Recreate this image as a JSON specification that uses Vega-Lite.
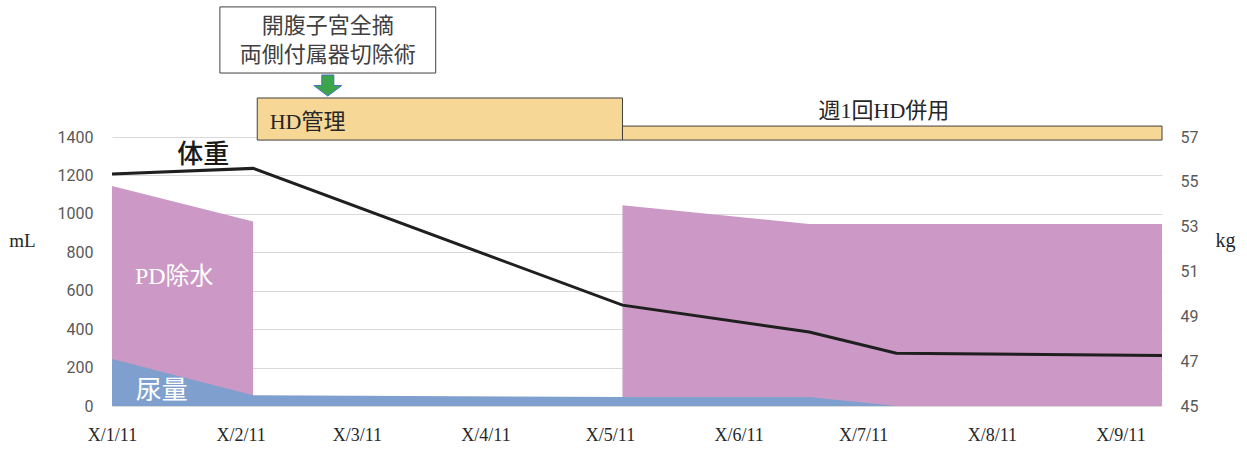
{
  "$schema": "https://vega.github.io/schema/vega-lite/v6.json",
  "width": 1050,
  "height": 269,
  "autosize": {"type": "none"},
  "padding": {"left": 112, "top": 137, "right": 85, "bottom": 44},
  "background": "white",
  "config": {"view": {"stroke": null}, "font": "Noto Sans CJK JP", "axis": {"disable": true}},
  "datasets": {
    "fluid": [
      {"date": "2011/01/11", "series": "尿量", "seg": "u", "ml": 245},
      {"date": "2011/02/14", "series": "尿量", "seg": "u", "ml": 56},
      {"date": "2011/05/14", "series": "尿量", "seg": "u", "ml": 47},
      {"date": "2011/06/28", "series": "尿量", "seg": "u", "ml": 47},
      {"date": "2011/07/19", "series": "尿量", "seg": "u", "ml": 0},
      {"date": "2011/09/21", "series": "尿量", "seg": "u", "ml": 0},
      {"date": "2011/01/11", "series": "PD除水", "seg": "p1", "ml": 1145},
      {"date": "2011/02/14", "series": "PD除水", "seg": "p1", "ml": 960},
      {"date": "2011/05/14", "series": "PD除水", "seg": "p2", "ml": 1045},
      {"date": "2011/06/28", "series": "PD除水", "seg": "p2", "ml": 947},
      {"date": "2011/09/21", "series": "PD除水", "seg": "p2", "ml": 947}
    ],
    "weight": [
      {"date": "2011/01/11", "kg": 55.35},
      {"date": "2011/02/14", "kg": 55.6},
      {"date": "2011/05/14", "kg": 49.5},
      {"date": "2011/06/28", "kg": 48.3},
      {"date": "2011/07/19", "kg": 47.35},
      {"date": "2011/09/21", "kg": 47.25}
    ],
    "periods": [
      {"start": "2011/02/15", "end": "2011/05/14", "label": "HD管理"},
      {"start": "2011/05/14", "end": "2011/09/21", "label": "週1回HD併用"}
    ],
    "one": [{}]
  },
  "layer": [
    {
      "data": {"name": "fluid"},
      "transform": [{"filter": "datum.series === 'PD除水'"}],
      "mark": {"type": "area", "color": "#CC98C5", "opacity": 1},
      "encoding": {
        "x": {"field": "date", "type": "temporal"},
        "y": {
          "field": "ml", "type": "quantitative", "stack": null,
          "scale": {"domain": [0, 1400], "nice": false},
          "axis": {
            "disable": false, "orient": "left",
            "values": [0, 200, 400, 600, 800, 1000, 1200, 1400], "format": "d",
            "title": "mL", "titleAngle": 0, "titleX": -90, "titleY": 103,
            "titleAlign": "center", "titleBaseline": "middle",
            "titleFont": "Liberation Serif", "titleFontSize": 19, "titleFontWeight": "normal", "titleColor": "#262626",
            "domain": false, "ticks": false, "grid": true, "gridColor": "#D9D9D9", "gridWidth": 1,
            "labelFont": "Roboto", "labelFontSize": 16, "labelColor": "#595959", "labelPadding": 19
          }
        },
        "detail": {"field": "seg"}
      }
    },
    {
      "data": {"name": "fluid"},
      "transform": [{"filter": "datum.series === '尿量'"}],
      "mark": {"type": "area", "color": "#7FA0CF", "opacity": 1},
      "encoding": {
        "x": {"field": "date", "type": "temporal"},
        "y": {"field": "ml", "type": "quantitative", "stack": null, "scale": {"domain": [0, 1400], "nice": false}}
      }
    },
    {
      "data": {"name": "periods"},
      "transform": [{"filter": "datum.label === 'HD管理'"}],
      "mark": {"type": "rect", "fill": "#F6D796", "stroke": "#404040", "strokeWidth": 1},
      "encoding": {
        "x": {"field": "start", "type": "temporal"},
        "x2": {"field": "end"},
        "y": {"datum": 1603, "type": "quantitative", "scale": {"domain": [0, 1400], "nice": false}},
        "y2": {"datum": 1384}
      }
    },
    {
      "data": {"name": "periods"},
      "transform": [{"filter": "datum.label === '週1回HD併用'"}],
      "mark": {"type": "rect", "fill": "#F6D796", "stroke": "#404040", "strokeWidth": 1},
      "encoding": {
        "x": {"field": "start", "type": "temporal"},
        "x2": {"field": "end"},
        "y": {"datum": 1457, "type": "quantitative", "scale": {"domain": [0, 1400], "nice": false}},
        "y2": {"datum": 1384}
      }
    },
    {
      "data": {"name": "one"},
      "mark": {"type": "text", "text": "HD管理", "align": "left", "baseline": "middle", "font": "Liberation Serif, Noto Sans CJK JP", "fontSize": 22, "color": "#262626"},
      "encoding": {
        "x": {"datum": {"year": 2011, "month": 2, "date": 18}, "type": "temporal"},
        "y": {"datum": 1478, "type": "quantitative", "scale": {"domain": [0, 1400], "nice": false}}
      }
    },
    {
      "data": {"name": "one"},
      "mark": {"type": "text", "text": "週1回HD併用", "align": "center", "baseline": "middle", "font": "Liberation Serif, Noto Sans CJK JP", "fontSize": 22, "color": "#262626"},
      "encoding": {
        "x": {"datum": {"year": 2011, "month": 7, "date": 16}, "type": "temporal"},
        "y": {"datum": 1535, "type": "quantitative", "scale": {"domain": [0, 1400], "nice": false}}
      }
    },
    {
      "data": {"name": "one"},
      "mark": {"type": "rect", "fill": "white", "stroke": "#404040", "strokeWidth": 1},
      "encoding": {
        "x": {"datum": {"year": 2011, "month": 2, "date": 6}, "type": "temporal"},
        "x2": {"datum": {"year": 2011, "month": 3, "date": 30}},
        "y": {"datum": 2077, "type": "quantitative", "scale": {"domain": [0, 1400], "nice": false}},
        "y2": {"datum": 1733}
      }
    },
    {
      "data": {"name": "one"},
      "mark": {"type": "text", "text": "開腹子宮全摘", "align": "center", "baseline": "middle", "font": "Noto Sans CJK JP", "fontSize": 22, "color": "#404040"},
      "encoding": {
        "x": {"datum": {"year": 2011, "month": 3, "date": 4}, "type": "temporal"},
        "y": {"datum": 1978, "type": "quantitative", "scale": {"domain": [0, 1400], "nice": false}}
      }
    },
    {
      "data": {"name": "one"},
      "mark": {"type": "text", "text": "両側付属器切除術", "align": "center", "baseline": "middle", "font": "Noto Sans CJK JP", "fontSize": 22, "color": "#404040"},
      "encoding": {
        "x": {"datum": {"year": 2011, "month": 3, "date": 4}, "type": "temporal"},
        "y": {"datum": 1827, "type": "quantitative", "scale": {"domain": [0, 1400], "nice": false}}
      }
    },
    {
      "data": {"name": "one"},
      "mark": {"type": "point", "shape": "M-0.43,-0.75L0.43,-0.75L0.43,0L1,0L0,0.75L-1,0L-0.43,0Z", "size": 784, "filled": true, "fill": "#3CA54A", "stroke": "#4472C4", "strokeWidth": 1, "opacity": 1},
      "encoding": {
        "x": {"datum": {"year": 2011, "month": 3, "date": 4}, "type": "temporal"},
        "y": {"datum": 1668, "type": "quantitative", "scale": {"domain": [0, 1400], "nice": false}}
      }
    },
    {
      "data": {"name": "one"},
      "mark": {"type": "text", "text": "体重", "align": "center", "baseline": "middle", "font": "Noto Sans CJK JP", "fontSize": 26, "fontWeight": 500, "color": "#1A1A1A"},
      "encoding": {
        "x": {"datum": {"year": 2011, "month": 2, "date": 2}, "type": "temporal"},
        "y": {"datum": 1306, "type": "quantitative", "scale": {"domain": [0, 1400], "nice": false}}
      }
    },
    {
      "data": {"name": "one"},
      "mark": {"type": "text", "text": "PD除水", "align": "center", "baseline": "middle", "font": "Liberation Serif, Noto Sans CJK JP", "fontSize": 24, "color": "white"},
      "encoding": {
        "x": {"datum": {"year": 2011, "month": 1, "date": 26}, "type": "temporal"},
        "y": {"datum": 671, "type": "quantitative", "scale": {"domain": [0, 1400], "nice": false}}
      }
    },
    {
      "data": {"name": "one"},
      "mark": {"type": "text", "text": "尿量", "align": "center", "baseline": "middle", "font": "Noto Sans CJK JP", "fontSize": 26, "color": "white"},
      "encoding": {
        "x": {"datum": {"year": 2011, "month": 1, "date": 23}, "type": "temporal"},
        "y": {"datum": 78, "type": "quantitative", "scale": {"domain": [0, 1400], "nice": false}}
      }
    },
    {
      "data": {"name": "weight"},
      "mark": {"type": "line", "color": "#1F1F1F", "strokeWidth": 3},
      "encoding": {
        "x": {
          "field": "date", "type": "temporal",
          "scale": {"domain": [{"year": 2011, "month": 1, "date": 11}, {"year": 2011, "month": 9, "date": 21}]},
          "axis": {
            "disable": false, "orient": "bottom",
            "values": [
              {"year": 2011, "month": 1, "date": 11}, {"year": 2011, "month": 2, "date": 11},
              {"year": 2011, "month": 3, "date": 11}, {"year": 2011, "month": 4, "date": 11},
              {"year": 2011, "month": 5, "date": 11}, {"year": 2011, "month": 6, "date": 11},
              {"year": 2011, "month": 7, "date": 11}, {"year": 2011, "month": 8, "date": 11},
              {"year": 2011, "month": 9, "date": 11}
            ],
            "labelExpr": "'X/' + (month(datum.value) + 1) + '/11'",
            "title": null, "domain": false, "ticks": false, "grid": false,
            "labelFont": "Liberation Serif", "labelFontSize": 18, "labelColor": "#262626",
            "labelPadding": 20, "labelFlush": false, "labelOverlap": false
          }
        },
        "y": {
          "field": "kg", "type": "quantitative",
          "scale": {"domain": [45, 57], "nice": false, "zero": false},
          "axis": {
            "disable": false,
            "orient": "right",
            "values": [45, 47, 49, 51, 53, 55, 57],
            "title": "kg", "titleAngle": 0, "titleX": 63, "titleY": 103,
            "titleAlign": "center", "titleBaseline": "middle",
            "titleFont": "Liberation Serif", "titleFontSize": 20, "titleFontWeight": "normal", "titleColor": "#262626",
            "domain": false, "ticks": false, "grid": false,
            "labelFont": "Roboto", "labelFontSize": 16, "labelColor": "#595959", "labelPadding": 18
          }
        }
      }
    }
  ],
  "resolve": {"scale": {"y": "independent"}, "axis": {"x": "independent"}}
}
